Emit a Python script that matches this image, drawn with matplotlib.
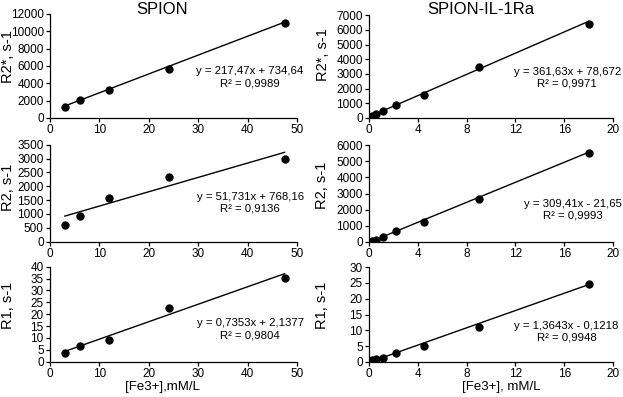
import numpy as np
import matplotlib
matplotlib.use("Agg")
import matplotlib.pyplot as plt

plt.rcParams['font.family'] = ['Liberation Sans', 'DejaVu Sans']

# SPION
x_spion = [3, 6, 12, 24, 47.5]
r2s_spion = [1300, 2050, 3250, 5600, 11000]
r2_spion = [620, 940, 1580, 2330, 3000]
r1_spion = [3.5, 6.5, 9.2, 22.8, 35.3]

# SPION-IL-1Ra
x_il = [0.07, 0.14, 0.28, 0.56, 1.125, 2.25, 4.5, 9, 18]
r2s_il = [30, 80, 150, 250, 450, 880, 1550, 3500, 6400]
r2_il = [0, 20, 60, 130, 300, 700, 1250, 2650, 5500]
r1_il = [0.2, 0.3, 0.5, 0.8, 1.2, 2.7, 5.2, 11, 24.7]

# trend lines (slope, intercept) and labels as printed
fits = {
    'r2s_spion': (217.47, 734.64, "y = 217,47x + 734,64\nR² = 0,9989"),
    'r2_spion': (51.731, 768.16, "y = 51,731x + 768,16\nR² = 0,9136"),
    'r1_spion': (0.7353, 2.1377, "y = 0,7353x + 2,1377\nR² = 0,9804"),
    'r2s_il': (361.63, 78.672, "y = 361,63x + 78,672\nR² = 0,9971"),
    'r2_il': (309.41, -21.65, "y = 309,41x - 21,65\nR² = 0,9993"),
    'r1_il': (1.3643, -0.1218, "y = 1,3643x - 0,1218\nR² = 0,9948"),
}

W, H = 623, 397
fig = plt.figure(figsize=(W / 100, H / 100), dpi=100)


def px_axes(x0, x1, ytop, ybot):
    return fig.add_axes([x0 / W, (H - ybot) / H, (x1 - x0) / W, (ybot - ytop) / H])


panels = [
    # key, x, y, axes box (px), xlim/ticks, ylim/ticks, text pos, ylabel, ylabel px
    ('r2s_spion', x_spion, r2s_spion, (50, 297, 14, 118), (50, 10), (12000, 2000), (0.81, 0.39), "R2*, s-1", (8, 57)),
    ('r2_spion', x_spion, r2_spion, (50, 297, 144.7, 241.7), (50, 10), (3500, 500), (0.81, 0.40), "R2, s-1", (8, 187)),
    ('r1_spion', x_spion, r1_spion, (50, 297, 266.7, 361.7), (50, 10), (40, 5), (0.81, 0.34), "R1, s-1", (8, 305)),
    ('r2s_il', x_il, r2s_il, (369, 613, 15.3, 118), (20, 4), (7000, 1000), (0.813, 0.39), "R2*, s-1", (323, 55)),
    ('r2_il', x_il, r2_il, (369, 613, 145, 242), (20, 4), (6000, 1000), (0.834, 0.33), "R2, s-1", (322, 185)),
    ('r1_il', x_il, r1_il, (369, 613, 267, 362), (20, 4), (30, 5), (0.81, 0.32), "R1, s-1", (322, 305)),
]

for key, xs, ys, box, (xmax, xstep), (ymax, ystep), tpos, ylab, lpos in panels:
    ax = px_axes(*box)
    slope, icpt, label = fits[key]
    xl = np.array([min(xs), max(xs)])
    ax.plot(xl, slope * xl + icpt, color='black', lw=1.0)
    ax.plot(xs, ys, 'o', color='black', ms=5)
    ax.set_xlim(0, xmax)
    ax.set_ylim(0, ymax)
    ax.set_xticks(np.arange(0, xmax + 1e-9, xstep))
    ax.set_yticks(np.arange(0, ymax + 1e-9, ystep))
    for s in ('top', 'right'):
        ax.spines[s].set_visible(False)
    for s in ('left', 'bottom'):
        ax.spines[s].set_linewidth(0.9)
    ax.tick_params(direction='out', length=3, width=0.9, labelsize=8.5, pad=1.5)
    ax.text(tpos[0], tpos[1], label, transform=ax.transAxes, ha='center', va='center',
            multialignment='center', fontsize=8.2, linespacing=1.25)
    fig.text(lpos[0] / W, (H - lpos[1]) / H, ylab, rotation=90, ha='center', va='center', fontsize=10.5)

fig.text(162.5 / W, (H - 9.5) / H, "SPION", ha='center', va='center', fontsize=12)
fig.text(481 / W, (H - 9.5) / H, "SPION-IL-1Ra", ha='center', va='center', fontsize=12)
fig.text(162.5 / W, (H - 386.7) / H, "[Fe3+],mM/L", ha='center', va='center', fontsize=9.5)
fig.text(501.7 / W, (H - 386.7) / H, "[Fe3+], mM/L", ha='center', va='center', fontsize=9.5)

fig.savefig("out.png", dpi=100)
